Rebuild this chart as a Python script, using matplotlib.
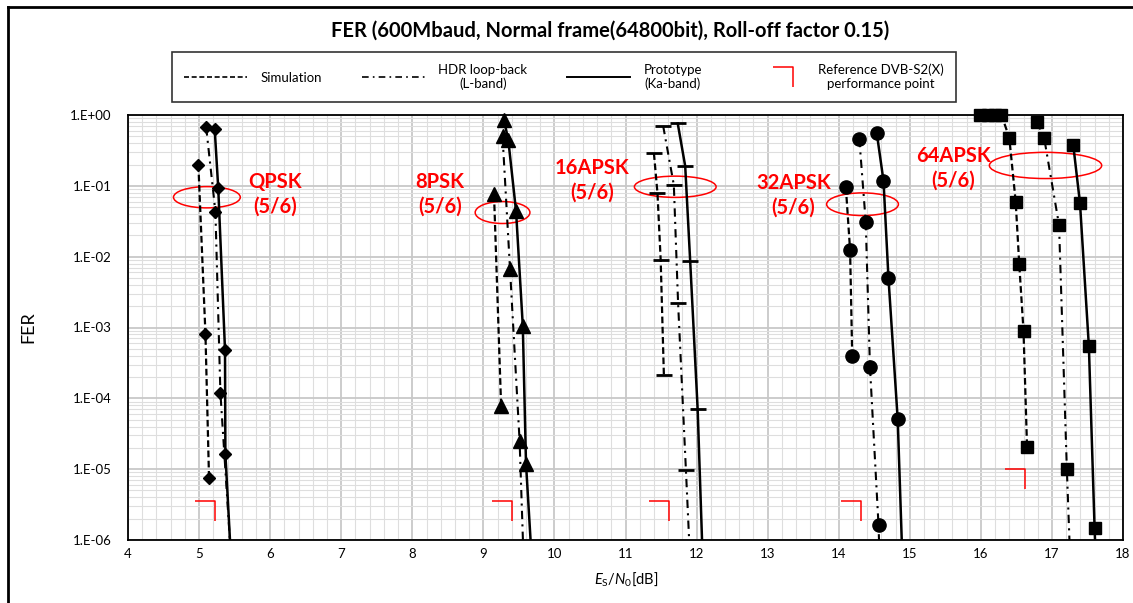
import numpy as np
import matplotlib
matplotlib.use("Agg")
import matplotlib.pyplot as plt
from matplotlib.path import Path
from matplotlib.patches import Ellipse
from matplotlib.lines import Line2D
from matplotlib.ticker import FixedLocator, FuncFormatter, NullFormatter

plt.rcParams["font.family"] = ["Lato", "DejaVu Sans"]
plt.rcParams["mathtext.fontset"] = "custom"
plt.rcParams["mathtext.rm"] = "Lato"
plt.rcParams["mathtext.it"] = "Lato:italic"

# ------------------------------------------------------------
# data (Es/N0 [dB], FER)
# last point of some curves lies below 1E-6 (line only, no marker)
# ------------------------------------------------------------
qpsk_sim_x = [4.99, 5.09, 5.14]
qpsk_sim_y = [2.0e-1, 8.0e-4, 7.5e-6]
qpsk_hdr_x = [5.10, 5.23, 5.30, 5.44]
qpsk_hdr_y = [0.67, 0.043, 1.2e-4, 8e-7]
qpsk_pro_x = [5.22, 5.27, 5.365, 5.37, 5.44]
qpsk_pro_y = [0.63, 0.092, 4.8e-4, 1.66e-5, 8e-7]

psk8_sim_x = [9.15, 9.25]
psk8_sim_y = [0.076, 7.7e-5]
psk8_hdr_x = [9.27, 9.375, 9.51, 9.56]
psk8_hdr_y = [0.50, 6.7e-3, 2.5e-5, 8e-7]
psk8_pro_x = [9.29, 9.35, 9.46, 9.555, 9.60, 9.67]
psk8_pro_y = [0.85, 0.45, 0.044, 1.05e-3, 1.2e-5, 8e-7]

apsk16_sim_x = [11.40, 11.45, 11.495, 11.54]
apsk16_sim_y = [0.288, 0.0785, 8.97e-3, 2.13e-4]
apsk16_hdr_x = [11.53, 11.68, 11.74, 11.85, 11.90]
apsk16_hdr_y = [0.70, 0.103, 2.2e-3, 9.8e-6, 8e-7]
apsk16_pro_x = [11.735, 11.84, 11.91, 12.015, 12.08]
apsk16_pro_y = [0.76, 0.19, 8.7e-3, 7.1e-5, 8e-7]

apsk32_sim_x = [14.10, 14.16, 14.19]
apsk32_sim_y = [0.097, 0.0124, 3.97e-4]
apsk32_hdr_x = [14.29, 14.38, 14.44, 14.56, 14.57]
apsk32_hdr_y = [0.46, 0.031, 2.74e-4, 1.63e-6, 8e-7]
apsk32_pro_x = [14.535, 14.63, 14.70, 14.83, 14.89]
apsk32_pro_y = [0.56, 0.118, 5.0e-3, 5.06e-5, 8e-7]

apsk64_sim_x = [15.99, 16.105, 16.20, 16.29, 16.40, 16.49, 16.54, 16.60, 16.65]
apsk64_sim_y = [1.0, 1.0, 1.0, 1.0, 0.478, 0.0597, 7.87e-3, 9.0e-4, 2.03e-5]
apsk64_hdr_x = [16.79, 16.89, 17.10, 17.21, 17.25]
apsk64_hdr_y = [0.80, 0.478, 0.028, 9.95e-6, 8e-7]
apsk64_pro_x = [17.30, 17.395, 17.52, 17.60, 17.61]
apsk64_pro_y = [0.377, 0.0567, 5.4e-4, 1.49e-6, 8e-7]

# reference DVB-S2(X) performance points
ref_x = [5.22, 9.41, 11.61, 14.32, 16.62]
ref_y = [3.6e-6, 3.6e-6, 3.6e-6, 3.6e-6, 1.0e-5]

# modulation labels (text, x, FER)
mod_labels = ["QPSK\n(5/6)", "8PSK\n(5/6)", "16APSK\n(5/6)", "32APSK\n(5/6)", "64APSK\n(5/6)"]
mod_label_x = [6.07, 8.39, 10.53, 13.36, 15.61]
mod_label_y = [0.0767, 0.0767, 0.121, 0.0742, 0.179]

# red ellipses: centre x, centre FER, width [dB], height [decades]
ell_x = [5.11, 9.27, 11.70, 14.335, 16.91]
ell_y = [0.069, 0.042, 0.097, 0.055, 0.194]
ell_w = [0.94, 0.77, 1.15, 1.01, 1.58]
ell_h = [0.30, 0.31, 0.30, 0.32, 0.37]

y_ticks = [1e-6, 1e-5, 1e-4, 1e-3, 1e-2, 1e-1, 1.0]

xmin, xmax = 4, 18
ymin, ymax = 1e-6, 1.0

groups = [
    ("D", 6, qpsk_sim_x, qpsk_sim_y, qpsk_hdr_x, qpsk_hdr_y, qpsk_pro_x, qpsk_pro_y),
    ("^", 10, psk8_sim_x, psk8_sim_y, psk8_hdr_x, psk8_hdr_y, psk8_pro_x, psk8_pro_y),
    ("_", 11, apsk16_sim_x, apsk16_sim_y, apsk16_hdr_x, apsk16_hdr_y, apsk16_pro_x, apsk16_pro_y),
    ("o", 9.5, apsk32_sim_x, apsk32_sim_y, apsk32_hdr_x, apsk32_hdr_y, apsk32_pro_x, apsk32_pro_y),
    ("s", 9, apsk64_sim_x, apsk64_sim_y, apsk64_hdr_x, apsk64_hdr_y, apsk64_pro_x, apsk64_pro_y),
]

sim_ls = (0, (3, 1.6))
hdr_ls = (0, (4, 2.5, 1, 2.5))
pro_ls = "-"

# "┐" shaped marker, corner sits on the data point
corner = Path([(-1, 0), (0, 0), (0, -1)], [Path.MOVETO, Path.LINETO, Path.LINETO])
# same shape shifted for the legend entry
corner_leg = Path([(0, 0.5), (1, 0.5), (1, -0.5)], [Path.MOVETO, Path.LINETO, Path.LINETO])

fig = plt.figure(figsize=(11.33, 6.03), dpi=100)
ax = fig.add_axes([128 / 1133, 63 / 603, 995 / 1133, 425 / 603])

ax.set_yscale("log")
ax.set_xlim(xmin, xmax)
ax.set_ylim(ymin, ymax)

# grid
ax.xaxis.set_major_locator(FixedLocator(np.arange(4, 19, 1)))
ax.xaxis.set_minor_locator(FixedLocator(np.arange(4, 18.01, 0.2)))
ax.yaxis.set_major_locator(FixedLocator(y_ticks))
minor_y = [m * t for t in y_ticks[:-1] for m in range(2, 10)]
ax.yaxis.set_minor_locator(FixedLocator(minor_y))
ax.yaxis.set_minor_formatter(NullFormatter())
ax.yaxis.set_major_formatter(FuncFormatter(lambda v, p: f"1.E{int(round(np.log10(v))):+03d}"))
ax.grid(which="major", color="#c8c8c8", lw=1.3, zorder=0)
ax.grid(which="minor", color="#dedede", lw=0.8, zorder=0)
ax.set_axisbelow(True)
ax.tick_params(which="both", length=0, labelsize=9.5)
ax.tick_params(axis="y", pad=12)
ax.tick_params(axis="x", pad=6)
for sp in ax.spines.values():
    sp.set_color("black")
    sp.set_linewidth(1.3)

# ellipses (behind the curves)
for cx, cy, w, h in zip(ell_x, ell_y, ell_w, ell_h):
    fx = (cx - xmin) / (xmax - xmin)
    fy = (np.log10(cy) + 6) / 6
    ax.add_patch(Ellipse((fx, fy), w / (xmax - xmin), h / 6, transform=ax.transAxes,
                         fill=False, ec="red", lw=1.1, zorder=1.5))

# curves
for mk, ms, sx, sy, hx, hy, px, py in groups:
    for xs, ys, ls, lw in ((sx, sy, sim_ls, 1.6), (hx, hy, hdr_ls, 1.5), (px, py, pro_ls, 1.8)):
        xs = np.asarray(xs)
        ys = np.asarray(ys)
        ax.plot(xs, ys, color="black", ls=ls, lw=lw, zorder=3)
        inside = ys >= ymin
        ax.plot(xs[inside], ys[inside], ls="none", marker=mk, ms=ms, color="black",
                mew=2 if mk == "_" else 1, zorder=4, clip_on=False)

# reference points
ax.plot(ref_x, ref_y, ls="none", marker=corner, ms=29, mew=1.1, color="red",
        fillstyle="none", zorder=4)

for txt, tx, ty in zip(mod_labels, mod_label_x, mod_label_y):
    ax.text(tx, ty, txt, color="red", fontsize=14.5, fontweight="bold",
            ha="center", va="center", linespacing=1.3, zorder=5)

ax.set_xlabel(r"$\mathit{E}_\mathrm{S}/\mathit{N}_\mathrm{0}$[dB]", fontsize=10.5)
ax.xaxis.set_label_coords(0.5005, -0.072)
ax.set_ylabel("FER", fontsize=13)
ax.yaxis.set_label_coords(-0.092, 0.5)

fig.text(610 / 1133, 1 - 31 / 603, "FER (600Mbaud, Normal frame(64800bit), Roll-off factor 0.15)",
         fontsize=14.5, fontweight="bold", ha="center", va="center")

# legend
handles = [
    Line2D([], [], color="black", ls=sim_ls, lw=1.2),
    Line2D([], [], color="black", ls=hdr_ls, lw=1.2),
    Line2D([], [], color="black", ls=pro_ls, lw=1.4),
    Line2D([], [], color="red", ls="none", marker=corner_leg, ms=29, mew=1.1, fillstyle="none"),
]
labels = ["Simulation", "HDR loop-back\n(L-band)", "Prototype\n(Ka-band)",
          "Reference DVB-S2(X)\nperformance point"]
leg = fig.legend(handles, labels, loc="center", bbox_to_anchor=(564 / 1133, 1 - 77 / 603),
                 ncol=4, fontsize=9.5, handlelength=4.8, handletextpad=1.0,
                 columnspacing=3.0, frameon=True, fancybox=False, borderpad=0.9,
                 edgecolor="black")
leg.get_frame().set_linewidth(1.2)
for t in leg.get_texts():
    t.set_multialignment("center")

# outer chart frame
fig.add_artist(Line2D([8 / 1133, 8 / 1133], [0, 1 - 7 / 603], transform=fig.transFigure,
                      color="black", lw=2))
fig.add_artist(Line2D([8 / 1133, 1], [1 - 7 / 603, 1 - 7 / 603], transform=fig.transFigure,
                      color="black", lw=2))

fig.savefig("out.png", dpi=100)
